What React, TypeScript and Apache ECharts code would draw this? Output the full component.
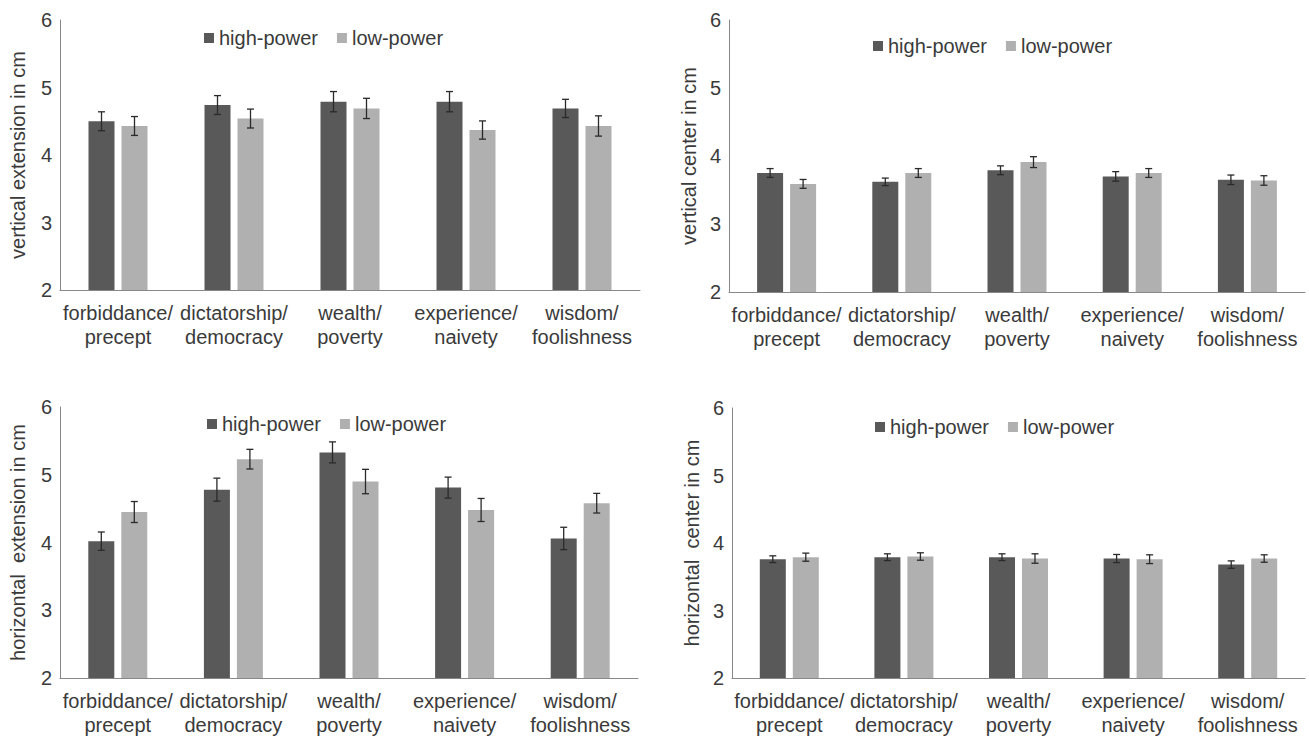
import React, { useEffect, useRef } from "react";
import * as echarts from "echarts";

const categories = [
  "forbiddance/\nprecept",
  "dictatorship/\ndemocracy",
  "wealth/\npoverty",
  "experience/\nnaivety",
  "wisdom/\nfoolishness",
];
const seriesNames = ["high-power", "low-power"];
const yTicks = { min: 2, max: 6, interval: 1 };

// vertical extension
const vertExtHigh = [4.5, 4.74, 4.79, 4.79, 4.69];
const vertExtHighErr = [0.14, 0.14, 0.15, 0.15, 0.135];
const vertExtLow = [4.43, 4.54, 4.69, 4.37, 4.43];
const vertExtLowErr = [0.14, 0.14, 0.15, 0.135, 0.15];
// vertical center
const vertCenHigh = [3.75, 3.62, 3.79, 3.7, 3.65];
const vertCenHighErr = [0.065, 0.055, 0.065, 0.07, 0.07];
const vertCenLow = [3.59, 3.75, 3.91, 3.75, 3.64];
const vertCenLowErr = [0.065, 0.065, 0.08, 0.065, 0.07];
// horizontal extension
const horExtHigh = [4.02, 4.78, 5.33, 4.81, 4.06];
const horExtHighErr = [0.135, 0.17, 0.155, 0.155, 0.165];
const horExtLow = [4.45, 5.23, 4.9, 4.48, 4.58];
const horExtLowErr = [0.155, 0.145, 0.18, 0.17, 0.145];
// horizontal center
const horCenHigh = [3.76, 3.79, 3.79, 3.77, 3.68];
const horCenHighErr = [0.05, 0.05, 0.05, 0.06, 0.055];
const horCenLow = [3.79, 3.8, 3.77, 3.76, 3.77];
const horCenLowErr = [0.06, 0.055, 0.07, 0.065, 0.055];

const panelTitles = [
  "vertical extension in cm",
  "vertical center in cm",
  "horizontal  extension in cm",
  "horizontal  center in cm",
];

const panels = [
  { name: panelTitles[0], high: vertExtHigh, highErr: vertExtHighErr, low: vertExtLow, lowErr: vertExtLowErr },
  { name: panelTitles[1], high: vertCenHigh, highErr: vertCenHighErr, low: vertCenLow, lowErr: vertCenLowErr },
  { name: panelTitles[2], high: horExtHigh, highErr: horExtHighErr, low: horExtLow, lowErr: horExtLowErr },
  { name: panelTitles[3], high: horCenHigh, highErr: horCenHighErr, low: horCenLow, lowErr: horCenLowErr },
];

const layout = [
  { grid: { left: 60, top: 20, width: 580, height: 270 }, legend: { left: 199, top: 23 }, nameGap: 32 },
  { grid: { left: 729, top: 20, width: 576, height: 272 }, legend: { left: 868, top: 31 }, nameGap: 30 },
  { grid: { left: 60, top: 407, width: 578, height: 271 }, legend: { left: 202, top: 409 }, nameGap: 32 },
  { grid: { left: 732, top: 408, width: 573, height: 270 }, legend: { left: 870, top: 412 }, nameGap: 30 },
];

const DARK = "#595959";
const LIGHT = "#b0b0b0";
const TEXT = "#3a3a3a";
const AXIS = "#888888";
const FONT = "'Liberation Sans', Arial, sans-serif";
const FS = 20;
const BAR_W = 26;
const BAR_GAP_PX = 7;

function errorSeries(idx: number, values: number[], errs: number[], dir: number) {
  return {
    type: "custom",
    xAxisIndex: idx,
    yAxisIndex: idx,
    z: 5,
    silent: true,
    data: values.map((v, i) => [i, v, errs[i]]),
    renderItem: (params: any, api: any) => {
      const x = api.value(0);
      const v = api.value(1);
      const e = api.value(2);
      const hi = api.coord([x, v + e]);
      const lo = api.coord([x, v - e]);
      const off = (dir * (BAR_W + BAR_GAP_PX)) / 2;
      const cx = hi[0] + off;
      const cap = 3.5;
      const style = { stroke: "#2a2a2a", lineWidth: 1.3 };
      return {
        type: "group",
        children: [
          { type: "line", shape: { x1: cx, y1: hi[1], x2: cx, y2: lo[1] }, style },
          { type: "line", shape: { x1: cx - cap, y1: hi[1], x2: cx + cap, y2: hi[1] }, style },
          { type: "line", shape: { x1: cx - cap, y1: lo[1], x2: cx + cap, y2: lo[1] }, style },
        ],
      };
    },
  };
}

export default function App() {
  const ref = useRef<HTMLDivElement>(null);
  useEffect(() => {
    if (!ref.current) return;
    const chart = echarts.init(ref.current, undefined, { renderer: "svg" });
    const grid: any[] = [];
    const xAxis: any[] = [];
    const yAxis: any[] = [];
    const legend: any[] = [];
    const series: any[] = [];
    panels.forEach((p, i) => {
      const L = layout[i];
      grid.push({ ...L.grid, containLabel: false });
      xAxis.push({
        type: "category",
        gridIndex: i,
        data: categories,
        axisLine: { show: true, lineStyle: { color: AXIS, width: 1 } },
        axisTick: { show: false },
        axisLabel: { interval: 0, fontSize: FS, lineHeight: 24, margin: 11, color: TEXT, fontFamily: FONT },
        splitLine: { show: false },
      });
      yAxis.push({
        type: "value",
        gridIndex: i,
        min: yTicks.min,
        max: yTicks.max,
        interval: yTicks.interval,
        name: p.name,
        nameLocation: "middle",
        nameGap: L.nameGap,
        nameTextStyle: { fontSize: FS, color: TEXT, fontFamily: FONT },
        axisLine: { show: true, lineStyle: { color: AXIS, width: 1 } },
        axisTick: { show: false },
        axisLabel: { fontSize: FS, margin: 8, color: TEXT, fontFamily: FONT },
        splitLine: { show: false },
      });
      legend.push({
        ...L.legend,
        data: seriesNames,
        icon: "rect",
        itemWidth: 10,
        itemHeight: 10,
        itemGap: 19,
        selectedMode: false,
        textStyle: { fontSize: FS, color: TEXT, fontFamily: FONT },
      });
      series.push({
        type: "bar",
        name: seriesNames[0],
        xAxisIndex: i,
        yAxisIndex: i,
        data: p.high,
        barWidth: BAR_W,
        barGap: `${(BAR_GAP_PX / BAR_W) * 100}%`,
        itemStyle: { color: DARK },
      });
      series.push({
        type: "bar",
        name: seriesNames[1],
        xAxisIndex: i,
        yAxisIndex: i,
        data: p.low,
        barWidth: BAR_W,
        barGap: `${(BAR_GAP_PX / BAR_W) * 100}%`,
        itemStyle: { color: LIGHT },
      });
      series.push(errorSeries(i, p.high, p.highErr, -1));
      series.push(errorSeries(i, p.low, p.lowErr, 1));
    });
    chart.setOption({
      animation: false,
      backgroundColor: "#ffffff",
      textStyle: { fontFamily: FONT },
      grid,
      xAxis,
      yAxis,
      legend,
      series,
    });
    return () => chart.dispose();
  }, []);
  return (
    <div
      ref={ref}
      style={{ position: "fixed", left: 0, top: 0, width: 1309, height: 737, background: "#fff" }}
    />
  );
}
